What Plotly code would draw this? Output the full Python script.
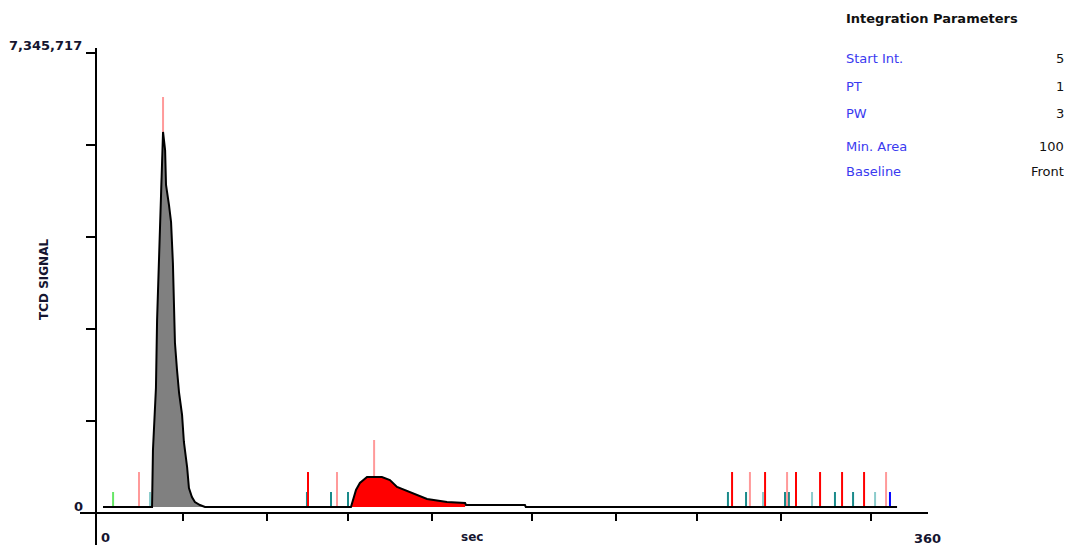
import plotly.graph_objects as go

# ---- data ----
time_s = [0, 21.4, 21.8, 23.1, 23.6, 24.4, 25.3, 26.2, 27.1, 27.5, 28.8, 29.7, 30.5, 31.0,
          31.4, 32.3, 33.2, 34.5, 35.3, 36.7, 37.5, 38.8, 40.1, 42.3, 44.5,
          108.2, 110.4, 112.1, 115.2, 121.7, 125.2, 128.3, 131.8, 137.0, 141.4, 150.1,
          158.0, 158.4, 184.1, 184.5, 346.5]
signal = [0, 0, 922000, 1925000, 3026000, 3948000, 5323000, 6068000, 5776000, 5210000,
          4886000, 4611000, 3948000, 3236000, 2654000, 2217000, 1845000, 1489000, 1052000,
          647000, 307000, 162000, 81000, 32000, 0,
          0, 275000, 388000, 485000, 485000, 437000, 324000, 275000, 194000, 129000, 81000,
          65000, 32000, 32000, 0, 0]

peak1_window = (21.4, 44.5)
peak2_window = (108.2, 158.0)

y_max = 7345717
y_min = -97080

x_tick_vals = [34.9, 71.6, 106.9, 143.6, 187.2, 223.9, 259.2, 295.9, 335.1]
y_tick_vals = [7345717, 5857157, 4368597, 2880037, 1391477]

# event markers (time, height)
tall_h = 566000
short_h = 243000
green_marks = [4.4]
pink_marks = [15.7, 102.1, 282.3, 298.5, 341.7]
red_marks = [89.45, 274.5, 288.9, 302.4, 312.9, 322.5, 332.1]
teal_marks = [89.0, 99.5, 106.9, 272.7, 280.6, 297.6, 299.3, 319.4, 327.3]
lightteal_marks = [20.5, 288.0, 309.4, 336.9]
blue_marks = [343.4]
apex_marks = [(26.2, 6068000, 6634000), (118.3, 485000, 1084000)]

param_labels = ["Start Int.", "PT", "PW", "Min. Area", "Baseline"]
param_values = ["5", "1", "3", "100", "Front"]

# ---- figure ----
fig = go.Figure()

def window(lo, hi):
    xs, ys = [], []
    for t, v in zip(time_s, signal):
        if lo <= t <= hi:
            xs.append(t)
            ys.append(v)
    return xs, ys

x1, y1 = window(*peak1_window)
fig.add_trace(go.Scatter(x=x1, y=y1, mode="lines", fill="tozeroy",
                         fillcolor="#808080", line=dict(width=0), hoverinfo="skip"))
x2, y2 = window(*peak2_window)
fig.add_trace(go.Scatter(x=x2, y=y2, mode="lines", fill="tozeroy",
                         fillcolor="#ff0000", line=dict(width=0), hoverinfo="skip"))

def marks(ts, h, color):
    xs, ys = [], []
    for t in ts:
        xs += [t, t, None]
        ys += [0, h, None]
    fig.add_trace(go.Scatter(x=xs, y=ys, mode="lines",
                             line=dict(color=color, width=2), hoverinfo="skip"))

marks(green_marks, short_h, "#66e666")
marks(lightteal_marks, short_h, "#8ccccc")
marks(teal_marks, short_h, "#1a8a8a")
marks(pink_marks, tall_h, "#ff9a9a")
marks(red_marks, tall_h, "#ff0000")
marks(blue_marks, short_h, "#0000ff")

ax, ay = [], []
for t, lo, hi in apex_marks:
    ax += [t, t, None]
    ay += [lo, hi, None]
fig.add_trace(go.Scatter(x=ax, y=ay, mode="lines",
                         line=dict(color="#ff9a9a", width=2), hoverinfo="skip"))

fig.add_trace(go.Scatter(x=time_s, y=signal, mode="lines",
                         line=dict(color="#000000", width=2), hoverinfo="skip"))

# page offset (browser body margin)
OFF = 8
W, H = 1056, 537
L, T = 96 - OFF, 53 - OFF
PR, PB = 928 - OFF, 513 - OFF
R, B = W - PR, H - PB
pw, ph = PR - L, PB - T

def px(xp):
    return (xp - OFF - L) / pw

def py(yp):
    return (PB - (yp - OFF)) / ph

fig.update_layout(
    width=W, height=H,
    margin=dict(l=L, r=R, t=T, b=B, pad=0),
    paper_bgcolor="white", plot_bgcolor="white",
    showlegend=False,
    xaxis=dict(range=[-3.055, 360], showgrid=False, zeroline=False, showline=False,
               tickvals=x_tick_vals, ticks="outside", ticklen=7, tickwidth=2,
               tickcolor="black", showticklabels=False, fixedrange=True),
    yaxis=dict(range=[y_min, y_max], showgrid=False, zeroline=False, showline=False,
               tickvals=y_tick_vals, ticks="outside", ticklen=9, tickwidth=2,
               tickcolor="black", showticklabels=False, fixedrange=True),
)

# axis lines
fig.add_shape(type="line", xref="paper", yref="paper", x0=0, x1=0, y0=py(553), y1=py(48),
              line=dict(color="black", width=2))
fig.add_shape(type="line", xref="paper", yref="paper", x0=px(80), x1=px(928), y0=0, y1=0,
              line=dict(color="black", width=2))

fam = "DejaVu Sans"
dark = "#151530"
blue = "#3a3af0"

def ann(text, x, y, xa="center", ya="middle", size=13, color=dark, bold=False, angle=0):
    t = f"<b>{text}</b>" if bold else text
    fig.add_annotation(text=t, xref="paper", yref="paper", x=px(x), y=py(y),
                       xanchor=xa, yanchor=ya, showarrow=False, textangle=angle,
                       font=dict(family=fam, size=size, color=color))

ann("7,345,717", 84, 45, xa="right", bold=True)
ann("0", 85, 506, xa="right", bold=True)
ann("0", 105, 537, bold=True)
ann("sec", 472, 537, bold=True, size=12)
ann("360", 927, 538, bold=True)
ann("TCD SIGNAL", 44, 280, bold=True, size=12, angle=-90)

ann("Integration Parameters", 844, 18, xa="left", bold=True, color="#111111")
rows_y = [58, 86, 113, 146, 172]
for lab, val, yy in zip(param_labels, param_values, rows_y):
    ann(lab, 844, yy, xa="left", color=blue)
    ann(val, 1066, yy, xa="right", color="#111111")

fig.write_html("out.html")
